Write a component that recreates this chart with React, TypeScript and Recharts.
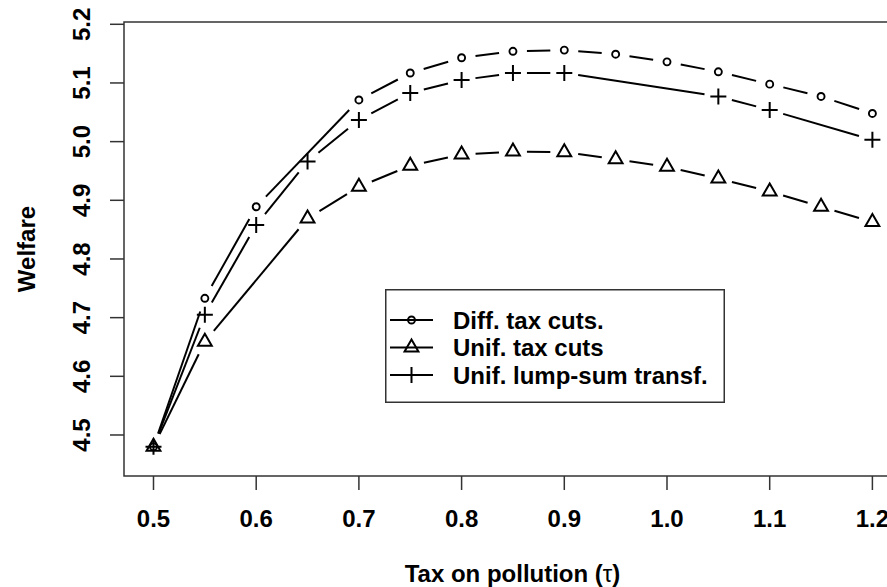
import React from 'react';
import { LineChart, Line, XAxis, YAxis, ReferenceArea, Legend, Label } from 'recharts';

const taxLevels = [0.5, 0.55, 0.6, 0.65, 0.7, 0.75, 0.8, 0.85, 0.9, 0.95, 1.0, 1.05, 1.1, 1.15, 1.2];
const diffTaxCuts = [4.48, 4.733, 4.889, null, 5.071, 5.117, 5.143, 5.154, 5.156, 5.149, 5.136, 5.119, 5.098, 5.077, 5.048];
const unifTaxCuts = [4.48, 4.659, null, 4.869, 4.923, 4.959, 4.978, 4.983, 4.982, 4.970, 4.957, 4.937, 4.915, 4.889, 4.863];
const unifLumpSum = [4.48, 4.705, 4.858, 4.966, 5.037, 5.083, 5.105, 5.117, 5.117, null, null, 5.077, 5.054, null, 5.003];

const xTicks = [0.5, 0.6, 0.7, 0.8, 0.9, 1.0, 1.1, 1.2];
const yTicks = [4.5, 4.6, 4.7, 4.8, 4.9, 5.0, 5.1, 5.2];
const seriesNames = ['Diff. tax cuts.', 'Unif. tax cuts', 'Unif. lump-sum transf.'];
const xTitleText = 'Tax on pollution (';
const xTitleSymbol = 'τ';
const yTitleText = 'Welfare';

const X_MIN = 0.47128;
const X_MAX = 1.22785;
const Y_MIN = 4.4301;
const Y_MAX = 5.2039;

const FONT = '"Liberation Sans", Arial, Helvetica, sans-serif';
const GAP = 14;

const data = taxLevels.map((t, i) => ({
  tau: t,
  diff: diffTaxCuts[i],
  unif: unifTaxCuts[i],
  lump: unifLumpSum[i],
}));

type Kind = 'circle' | 'triangle' | 'plus';

const series: { key: string; name: string; kind: Kind }[] = [
  { key: 'unif', name: seriesNames[1], kind: 'triangle' },
  { key: 'lump', name: seriesNames[2], kind: 'plus' },
  { key: 'diff', name: seriesNames[0], kind: 'circle' },
];

function markerEl(kind: Kind, cx: number, cy: number) {
  if (kind === 'circle') {
    return <circle cx={cx} cy={cy} r={3.5} fill="none" stroke="#000" strokeWidth={1.9} />;
  }
  if (kind === 'triangle') {
    const r = 8;
    const xc = r * 0.866;
    return (
      <path
        d={`M${cx},${cy - r}L${cx + xc},${cy + r / 2}L${cx - xc},${cy + r / 2}Z`}
        fill="none"
        stroke="#000"
        strokeWidth={2}
      />
    );
  }
  const h = 8;
  return <path d={`M${cx - h},${cy}H${cx + h}M${cx},${cy - h}V${cy + h}`} stroke="#000" strokeWidth={2} fill="none" />;
}

const validY = (v: any) => v != null && !Number.isNaN(v);

const makeDot = (kind: Kind) => (props: any) => {
  const { cx, cy, index, points, value } = props;
  if (!validY(cx) || !validY(cy) || value == null) return <g key={`dot-${index}`} />;
  let seg = null;
  if (Array.isArray(points)) {
    for (let j = index + 1; j < points.length; j++) {
      const p = points[j];
      if (p && validY(p.y) && validY(p.x) && p.value != null) {
        const dx = p.x - cx;
        const dy = p.y - cy;
        const L = Math.sqrt(dx * dx + dy * dy);
        if (L > 2 * GAP) {
          const ux = dx / L;
          const uy = dy / L;
          seg = (
            <line
              x1={cx + ux * GAP}
              y1={cy + uy * GAP}
              x2={p.x - ux * GAP}
              y2={p.y - uy * GAP}
              stroke="#000"
              strokeWidth={2}
            />
          );
        }
        break;
      }
    }
  }
  return (
    <g key={`dot-${index}`}>
      {seg}
      {markerEl(kind, cx, cy)}
    </g>
  );
};

const legendKinds: Kind[] = ['circle', 'triangle', 'plus'];

const renderLegend = () => {
  const rows = [31, 58.5, 86];
  return (
    <svg width={340} height={114} style={{ display: 'block' }}>
      <rect x={0.75} y={0.75} width={338.5} height={112.5} fill="#fff" stroke="#333" strokeWidth={1.5} />
      {seriesNames.map((name, i) => (
        <g key={name}>
          <line x1={5} y1={rows[i]} x2={48} y2={rows[i]} stroke="#000" strokeWidth={2} />
          {markerEl(legendKinds[i], 26.5, rows[i])}
          <text x={68} y={rows[i] + 8.6} fontFamily={FONT} fontWeight="bold" fontSize={24} fill="#000">
            {name}
          </text>
        </g>
      ))}
    </svg>
  );
};

const XTitle = (props: any) => {
  const vb = props.viewBox || { x: 124, y: 476, width: 777, height: 111 };
  return (
    <text
      x={vb.x + vb.width / 2}
      y={vb.y + 105.5}
      textAnchor="middle"
      fontFamily={FONT}
      fontWeight="bold"
      fontSize={24}
      fill="#000"
    >
      {xTitleText}
      <tspan fontWeight="normal">{xTitleSymbol}</tspan>)
    </text>
  );
};

const YTitle = (props: any) => {
  const vb = props.viewBox || { x: 0, y: 22, width: 124, height: 454 };
  const cx = 35.3;
  const cy = vb.y + vb.height / 2;
  return (
    <text
      x={cx}
      y={cy}
      transform={`rotate(-90 ${cx} ${cy})`}
      textAnchor="middle"
      fontFamily={FONT}
      fontWeight="bold"
      fontSize={24}
      fill="#000"
    >
      {yTitleText}
    </text>
  );
};

const YTick = (props: any) => {
  const { x, y, payload } = props;
  return (
    <text
      x={x}
      y={y}
      transform={`rotate(-90 ${x} ${y})`}
      textAnchor="middle"
      fontFamily={FONT}
      fontWeight="bold"
      fontSize={24}
      fill="#000"
    >
      {Number(payload.value).toFixed(1)}
    </text>
  );
};

export default function App() {
  return (
    <div
      style={{
        position: 'absolute',
        left: 0,
        top: 0,
        width: 887,
        height: 587,
        overflow: 'hidden',
        background: '#fff',
      }}
    >
      <LineChart width={910} height={587} data={data} margin={{ top: 22, right: 9, bottom: 0, left: 0 }}>
        <ReferenceArea
          x1={X_MIN}
          x2={X_MAX}
          y1={Y_MIN}
          y2={Y_MAX}
          fill="none"
          stroke="#333"
          strokeWidth={1.5}
          ifOverflow="visible"
        />
        <XAxis
          dataKey="tau"
          type="number"
          domain={[X_MIN, X_MAX]}
          ticks={xTicks}
          interval={0}
          allowDataOverflow
          tickFormatter={(v: number) => v.toFixed(1)}
          axisLine={false}
          tickLine={{ stroke: '#333', strokeWidth: 1.5 }}
          tickSize={14}
          tickMargin={20}
          height={111}
          tick={{ fontSize: 24, fontWeight: 'bold', fill: '#000', fontFamily: FONT }}
        >
          <Label content={XTitle} />
        </XAxis>
        <YAxis
          type="number"
          domain={[Y_MIN, Y_MAX]}
          ticks={yTicks}
          interval={0}
          allowDataOverflow
          width={124}
          axisLine={false}
          tickLine={{ stroke: '#333', strokeWidth: 1.5 }}
          tickSize={14}
          tickMargin={20}
          tick={YTick}
        >
          <Label content={YTitle} />
        </YAxis>
        {series.map((s) => (
          <Line
            key={s.key}
            dataKey={s.key}
            name={s.name}
            stroke="#000"
            strokeOpacity={0}
            strokeWidth={0}
            dot={makeDot(s.kind)}
            activeDot={false}
            isAnimationActive={false}
          />
        ))}
        <Legend
          layout="horizontal"
          verticalAlign="middle"
          align="center"
          content={renderLegend}
          wrapperStyle={{ position: 'absolute', left: 385, top: 289, width: 340, height: 114 }}
        />
      </LineChart>
    </div>
  );
}
